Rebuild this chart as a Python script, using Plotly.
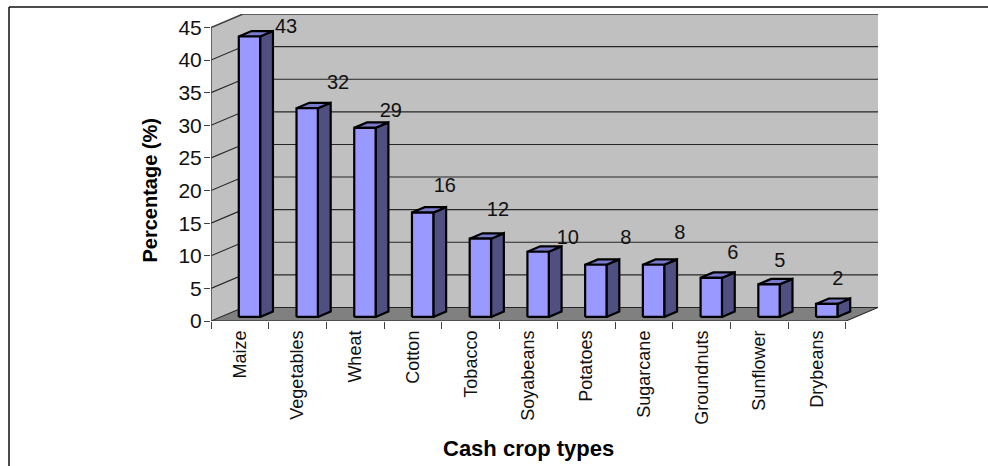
import plotly.graph_objects as go

# Survey results: share of respondents growing each cash crop
crops = ["Maize", "Vegetables", "Wheat", "Cotton", "Tobacco", "Soyabeans",
         "Potatoes", "Sugarcane", "Groundnuts", "Sunflower", "Drybeans"]
percent = [43, 32, 29, 16, 12, 10, 8, 8, 6, 5, 2]
y_ticks = [0, 5, 10, 15, 20, 25, 30, 35, 40, 45]

# Label placement relative to each bar (categories, percentage points)
label_dx = [0.80, 0.70, 0.615, 0.55, 0.47, 0.68, 0.686, 0.62, 0.54, 0.353, 0.358]
label_dy = [1.87, 4.3, 3.0, 4.5, 4.85, 2.56, 4.56, 5.3, 4.26, 4.04, 4.28]

# Oblique projection: how far the back wall sits from the front plane, in data units
DEPTH_X = 0.5546
DEPTH_Y = 2.07
BAR_HALF = 0.185      # half the width of a bar's front face
BAR_NEAR = 0.30       # fraction of the depth where the front face sits
BAR_FAR = 0.70        # fraction of the depth where the back face sits

X_LO, X_HI = -0.5, 10.5
Y_TOP = y_ticks[-1]

WALL = "#c0c0c0"
FLOOR = "#808080"
FACE = "#9999ff"
SIDE = "#4f4f82"
TOP = "#7a7acc"
INK = "#000000"
EDGE = "#404040"
GRID = "#262626"
FONT = "Liberation Sans, Arial, sans-serif"


def poly(xs, ys, fill, line=None, width=0):
    return go.Scatter(
        x=xs, y=ys, mode="lines", fill="toself", fillcolor=fill,
        line=dict(color=line or fill, width=width), hoverinfo="skip",
        showlegend=False, cliponaxis=False,
    )


def seg(xs, ys, color, width):
    return go.Scatter(
        x=xs, y=ys, mode="lines", line=dict(color=color, width=width),
        hoverinfo="skip", showlegend=False, cliponaxis=False,
    )


fig = go.Figure()

# Walls and floor
fig.add_trace(poly([X_LO + DEPTH_X, X_HI + DEPTH_X, X_HI + DEPTH_X, X_LO + DEPTH_X],
                   [DEPTH_Y, DEPTH_Y, Y_TOP + DEPTH_Y, Y_TOP + DEPTH_Y], WALL))
fig.add_trace(poly([X_LO, X_LO + DEPTH_X, X_LO + DEPTH_X, X_LO],
                   [0, DEPTH_Y, Y_TOP + DEPTH_Y, Y_TOP], WALL))
fig.add_trace(poly([X_LO, X_HI, X_HI + DEPTH_X, X_LO + DEPTH_X],
                   [0, 0, DEPTH_Y, DEPTH_Y], FLOOR))

# Gridlines wrap from the left wall onto the back wall
for t in y_ticks:
    colour = EDGE if t == Y_TOP else GRID
    weight = 1.6 if t == Y_TOP else 1.1
    fig.add_trace(seg([X_LO, X_LO + DEPTH_X, X_HI + DEPTH_X],
                      [t, t + DEPTH_Y, t + DEPTH_Y], colour, weight))

# Floor and axis edges
fig.add_trace(seg([X_LO, X_HI], [0, 0], EDGE, 1.6))
fig.add_trace(seg([X_LO, X_LO], [0, Y_TOP], EDGE, 1.4))
fig.add_trace(seg([X_HI, X_HI + DEPTH_X], [0, DEPTH_Y], GRID, 1.1))

# Bars: side and top faces first, then the front face
for i, v in enumerate(percent):
    x0 = i - BAR_HALF + BAR_NEAR * DEPTH_X
    x1 = i + BAR_HALF + BAR_NEAR * DEPTH_X
    y0 = BAR_NEAR * DEPTH_Y
    y1 = v + BAR_NEAR * DEPTH_Y
    bx = (BAR_FAR - BAR_NEAR) * DEPTH_X
    by = (BAR_FAR - BAR_NEAR) * DEPTH_Y
    fig.add_trace(poly([x1, x1 + bx, x1 + bx, x1, x1],
                       [y0, y0 + by, y1 + by, y1, y0], SIDE, INK, 2.2))
    fig.add_trace(poly([x0, x1, x1 + bx, x0 + bx, x0],
                       [y1, y1, y1 + by, y1 + by, y1], TOP, INK, 2.2))
    fig.add_trace(poly([x0, x1, x1, x0, x0],
                       [y0, y0, y1, y1, y0], FACE, INK, 2.2))

# Value labels
fig.add_trace(go.Scatter(
    x=[i + d for i, d in enumerate(label_dx)],
    y=[v + d for v, d in zip(percent, label_dy)],
    mode="text", text=[str(v) for v in percent],
    textposition="middle center",
    textfont=dict(family=FONT, size=20, color="#111111"),
    hoverinfo="skip", showlegend=False, cliponaxis=False,
))

fig.update_layout(
    width=988, height=466,
    margin=dict(l=211, r=110, t=14, b=145, autoexpand=False),
    paper_bgcolor="white", plot_bgcolor="white",
    showlegend=False,
    xaxis=dict(
        range=[X_LO, X_HI + DEPTH_X], showgrid=False, zeroline=False, showline=False,
        tickmode="array", tickvals=list(range(len(crops))), ticktext=crops,
        tickangle=-90, ticks="", ticklen=0, ticklabelstandoff=5,
        tickfont=dict(family=FONT, size=18, color="#111111"),
        minor=dict(tickmode="array", ticks="outside", ticklen=7, tickwidth=1.2,
                   tickcolor=EDGE, showgrid=False,
                   tickvals=[i - 0.5 for i in range(len(crops) + 1)]),
    ),
    yaxis=dict(
        range=[0, Y_TOP + DEPTH_Y], showgrid=False, zeroline=False, showline=False,
        tickmode="array", tickvals=y_ticks, ticklabelstandoff=-2,
        ticks="outside", ticklen=6, tickwidth=1.2, tickcolor=EDGE,
        tickfont=dict(family=FONT, size=21, color="#111111"),
    ),
    annotations=[
        dict(text="<b>Cash crop types</b>", xref="x", yref="y", x=5, y=0,
             yshift=-127, showarrow=False,
             font=dict(family=FONT, size=22, color="#000000")),
        dict(text="<b>Percentage (%)</b>", xref="x", yref="y", x=X_LO, y=20,
             xshift=-61, textangle=-90, showarrow=False,
             font=dict(family=FONT, size=20, color="#000000")),
    ],
    shapes=[
        # Frame around the chart: left and top sides only reach the page
        dict(type="line", xref="paper", yref="paper",
             x0=(9 - 211) / 667, x1=(988 - 211) / 667,
             y0=(321 - 7) / 307, y1=(321 - 7) / 307,
             line=dict(color="#111111", width=1.5)),
        dict(type="line", xref="paper", yref="paper",
             x0=(9 - 211) / 667, x1=(9 - 211) / 667,
             y0=(321 - 7) / 307, y1=(321 - 466) / 307,
             line=dict(color="#111111", width=1.5)),
    ],
)

fig.write_html("out.html")
